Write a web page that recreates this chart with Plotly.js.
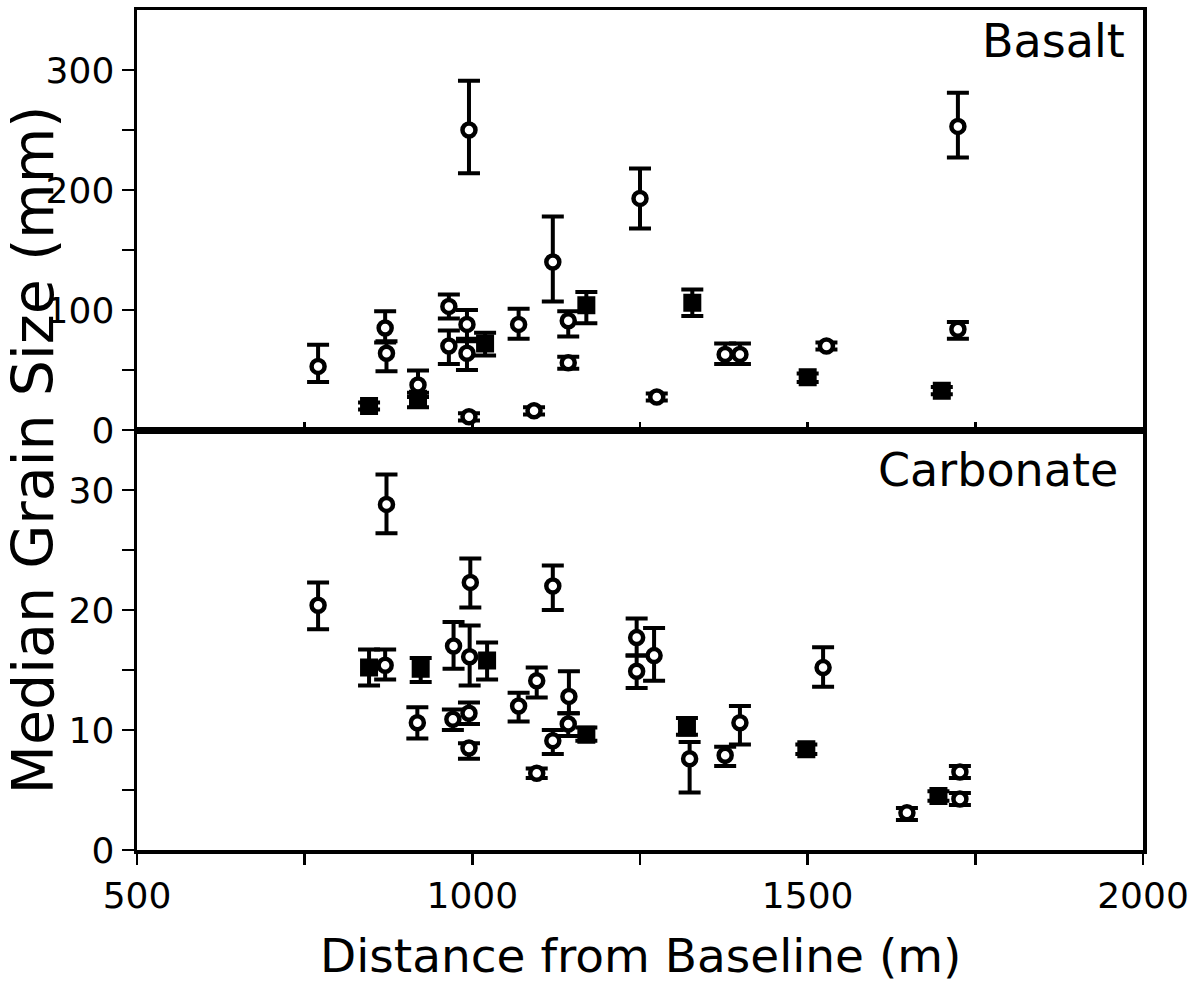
<!DOCTYPE html>
<html>
<head>
<meta charset="utf-8">
<script src="https://cdn.plot.ly/plotly-3.0.1.min.js"></script>
<style>html,body{margin:0;padding:0;background:#fff;}#chart{width:1197px;height:984px;}</style>
</head>
<body>
<div id="chart"></div>
<script>
// ---- Basalt (top panel) ----
const basaltCircleX   = [770, 870, 872, 919, 965, 965, 992, 992, 995, 995, 1069, 1092, 1120, 1143, 1143, 1250, 1275, 1377, 1399, 1528, 1724, 1724];
const basaltCircleY   = [53, 85, 64, 37.5, 103, 70, 88, 64, 11, 250, 88, 16, 140, 91, 56, 193, 27.5, 63, 63, 70, 253, 84];
const basaltCircleUp  = [18, 14, 10, 12, 10, 13, 12, 12, 3, 41, 13, 3, 38, 8, 5, 25, 3, 9, 9, 3, 28, 6];
const basaltCircleDn  = [13, 12, 15, 10, 10, 15, 14, 14, 3, 36, 12, 3, 33, 13, 5, 25, 3, 8, 8, 3, 26, 8];

const basaltSquareX   = [846, 919, 1019, 1170, 1328, 1500, 1700];
const basaltSquareY   = [20, 26, 72, 104, 106, 44, 32.8];
const basaltSquareUp  = [3, 5, 9, 11, 11, 3, 3];
const basaltSquareDn  = [3, 7, 10, 15, 11, 4, 3];

// ---- Carbonate (bottom panel) ----
const carbCircleX  = [770, 872, 870, 918, 972, 996, 997, 971, 995, 995, 1069, 1096, 1120, 1096, 1144, 1143, 1120, 1245, 1245, 1271, 1324, 1377, 1399, 1523, 1648, 1727, 1727];
const carbCircleY  = [20.4, 28.8, 15.4, 10.6, 17.0, 16.1, 22.3, 10.9, 11.4, 8.5, 12.0, 14.1, 22.0, 6.4, 12.8, 10.5, 9.1, 17.7, 14.9, 16.2, 7.6, 7.9, 10.6, 15.2, 3.1, 6.5, 4.25];
const carbCircleUp = [1.9, 2.5, 1.3, 1.3, 2.0, 2.6, 2.0, 0.8, 0.9, 0.4, 1.1, 1.1, 1.7, 0.4, 2.1, 0.9, 0.9, 1.6, 1.3, 2.3, 1.4, 0.7, 1.4, 1.7, 0.4, 0.5, 0.5];
const carbCircleDn = [2.0, 2.4, 1.2, 1.3, 1.9, 2.4, 2.1, 0.9, 0.9, 0.9, 1.3, 1.4, 2.0, 0.4, 1.4, 1.0, 1.1, 1.5, 1.4, 2.1, 2.8, 0.9, 1.8, 1.6, 0.6, 0.5, 0.5];

const carbSquareX  = [846, 923, 1022, 1170, 1320, 1498, 1695];
const carbSquareY  = [15.2, 15.1, 15.8, 9.6, 10.2, 8.4, 4.5];
const carbSquareUp = [1.5, 0.9, 1.5, 0.6, 0.8, 0.4, 0.4];
const carbSquareDn = [1.5, 1.1, 1.6, 0.5, 0.6, 0.4, 0.4];

const FONT = 'DejaVu Sans';

function errY(up, dn) {
  return {type: 'data', symmetric: false, array: up, arrayminus: dn,
          color: '#000', thickness: 4, width: 11};
}
const circleMarker = {symbol: 'circle', size: 13, color: '#fff', line: {color: '#000', width: 4.5}};
const squareMarker = {symbol: 'square', size: 16, color: '#000', line: {color: '#000', width: 2}};

const traces = [
  {x: basaltSquareX, y: basaltSquareY, xaxis: 'x2', yaxis: 'y2', type: 'scatter', mode: 'markers',
   marker: squareMarker, error_y: errY(basaltSquareUp, basaltSquareDn), showlegend: false},
  {x: basaltCircleX, y: basaltCircleY, xaxis: 'x2', yaxis: 'y2', type: 'scatter', mode: 'markers',
   marker: circleMarker, error_y: errY(basaltCircleUp, basaltCircleDn), showlegend: false},
  {x: carbSquareX, y: carbSquareY, xaxis: 'x', yaxis: 'y', type: 'scatter', mode: 'markers',
   marker: squareMarker, error_y: errY(carbSquareUp, carbSquareDn), showlegend: false},
  {x: carbCircleX, y: carbCircleY, xaxis: 'x', yaxis: 'y', type: 'scatter', mode: 'markers',
   marker: circleMarker, error_y: errY(carbCircleUp, carbCircleDn), showlegend: false}
];

const tickFont = {family: FONT, size: 36, color: '#000'};
const layout = {
  width: 1197, height: 984,
  margin: {l: 137, r: 54, t: 10, b: 134},
  paper_bgcolor: '#fff', plot_bgcolor: '#fff',
  font: {family: FONT, color: '#000'},
  showlegend: false,
  xaxis: {
    domain: [0, 1], anchor: 'y', range: [500, 2000],
    tickvals: [500, 1000, 1500, 2000], ticks: 'outside', ticklen: 11, tickwidth: 2.5, tickcolor: '#000',
    minor: {tickvals: [750, 1250, 1750], ticks: 'outside', ticklen: 11, tickwidth: 2.5, tickcolor: '#000'},
    showline: true, linewidth: 3.5, linecolor: '#000', mirror: true,
    showgrid: false, zeroline: false, tickfont: tickFont
  },
  xaxis2: {
    domain: [0, 1], anchor: 'y2', range: [500, 2000], matches: 'x',
    tickvals: [750, 1000, 1250, 1500, 1750], ticks: 'inside', ticklen: 8, tickwidth: 2.5, tickcolor: '#000',
    showticklabels: false,
    showline: true, linewidth: 3.5, linecolor: '#000', mirror: true,
    showgrid: false, zeroline: false
  },
  yaxis: {
    domain: [0, 0.5], anchor: 'x', range: [0, 35],
    tickvals: [0, 10, 20, 30], ticks: 'outside', ticklen: 12, tickwidth: 2.5, tickcolor: '#000',
    minor: {tickvals: [5, 15, 25], ticks: 'outside', ticklen: 12, tickwidth: 2.5, tickcolor: '#000'},
    showline: true, linewidth: 3.5, linecolor: '#000', mirror: true,
    showgrid: false, zeroline: false, tickfont: tickFont
  },
  yaxis2: {
    domain: [0.5, 1], anchor: 'x2', range: [0, 350],
    tickvals: [0, 100, 200, 300], ticks: 'outside', ticklen: 12, tickwidth: 2.5, tickcolor: '#000',
    minor: {tickvals: [50, 150, 250], ticks: 'outside', ticklen: 12, tickwidth: 2.5, tickcolor: '#000'},
    showline: true, linewidth: 3.5, linecolor: '#000', mirror: true,
    showgrid: false, zeroline: false, tickfont: tickFont
  },
  annotations: [
    {text: 'Basalt', xref: 'paper', yref: 'paper', x: 0.984, y: 0.963, xanchor: 'right', yanchor: 'middle',
     showarrow: false, font: {family: FONT, size: 46, color: '#000'}},
    {text: 'Carbonate', xref: 'paper', yref: 'paper', x: 0.977, y: 0.452, xanchor: 'right', yanchor: 'middle',
     showarrow: false, font: {family: FONT, size: 46, color: '#000'}},
    {text: 'Median Grain Size (mm)', xref: 'paper', yref: 'paper', x: -0.1034, y: 0.477, xanchor: 'center', yanchor: 'middle',
     textangle: -90, showarrow: false, font: {family: FONT, size: 57, color: '#000'}},
    {text: 'Distance from Baseline (m)', xref: 'paper', yref: 'paper', x: 0.5, y: -0.126, xanchor: 'center', yanchor: 'middle',
     showarrow: false, font: {family: FONT, size: 47, color: '#000'}}
  ]
};

Plotly.newPlot('chart', traces, layout, {staticPlot: true, displayModeBar: false});
</script>
</body>
</html>
